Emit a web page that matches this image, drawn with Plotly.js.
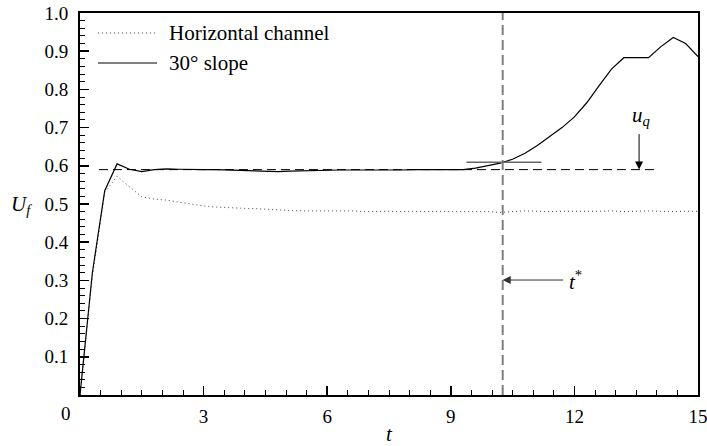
<!DOCTYPE html>
<html>
<head>
<meta charset="utf-8">
<script src="https://cdn.plot.ly/plotly-3.0.1.min.js"></script>
<style>html,body{margin:0;padding:0;background:#fff;}#chart{width:707px;height:446px;}</style>
</head>
<body>
<div id="chart"></div>
<script>
// time samples (dt = 0.3)
const tVals = [0,0.3,0.6,0.9,1.2,1.5,1.8,2.1,2.4,2.7,3.0,3.3,3.6,3.9,4.2,4.5,4.8,5.1,5.4,5.7,6.0,6.3,6.6,6.9,7.2,7.5,7.8,8.1,8.4,8.7,9.0,9.3,9.6,9.9,10.2,10.5,10.8,11.1,11.4,11.7,12.0,12.3,12.6,12.9,13.2,13.5,13.8,14.1,14.4,14.7,15.0];
// Horizontal channel front velocity
const horizontalUf = [0,0.31,0.53,0.573,0.545,0.519,0.513,0.510,0.505,0.500,0.495,0.492,0.490,0.489,0.488,0.486,0.484,0.483,0.482,0.482,0.481,0.481,0.482,0.480,0.481,0.481,0.480,0.481,0.480,0.481,0.480,0.480,0.481,0.480,0.478,0.480,0.482,0.481,0.480,0.481,0.481,0.480,0.481,0.482,0.480,0.481,0.482,0.481,0.480,0.481,0.481];
// 30 degree slope front velocity
const slopeUf = [0,0.32,0.535,0.605,0.591,0.585,0.590,0.592,0.591,0.590,0.590,0.590,0.589,0.588,0.587,0.586,0.585,0.586,0.587,0.588,0.589,0.589,0.589,0.589,0.588,0.588,0.589,0.590,0.590,0.589,0.589,0.590,0.594,0.600,0.607,0.617,0.633,0.653,0.676,0.700,0.728,0.765,0.810,0.853,0.883,0.883,0.883,0.912,0.936,0.920,0.886];
const seriesNames = ["Horizontal channel", "30\u00b0 slope"];
// annotation values
const tStar = 10.26;
const uq = 0.59;
const uqLineRange = [0.46, 14.05];
const tangentRange = [9.38, 11.2];
const tangentValue = 0.609;
const uqArrowT = 13.57;
const tStarArrowValue = 0.301;
const xTicks = [0,3,6,9,12,15];
const yTicks = [0,0.1,0.2,0.3,0.4,0.5,0.6,0.7,0.8,0.9,1.0];

const fam = "'Liberation Serif', 'DejaVu Serif', serif";
const tickFont = {family: fam, size: 19, color: "#000"};
const textFont = {family: fam, size: 21, color: "#000"};

const traces = [
  {x: tVals, y: horizontalUf, mode: "lines", name: seriesNames[0],
   line: {color: "#444", width: 1, dash: "1px,3px"}},
  {x: tVals, y: slopeUf, mode: "lines", name: seriesNames[1],
   line: {color: "#000", width: 1.2}}
];

function px2paperX(px){return (px-80)/618;}
function px2paperY(py){return (395-py)/382;}

const layout = {
  width: 707, height: 446,
  margin: {l: 80, r: 9, t: 13, b: 51},
  paper_bgcolor: "#fff", plot_bgcolor: "#fff",
  showlegend: false,
  font: tickFont,
  xaxis: {
    range: [0, 15], showgrid: false, zeroline: false,
    showline: true, linecolor: "#000", linewidth: 2, mirror: true,
    tickmode: "array", tickvals: xTicks, ticktext: xTicks.map(v => v === 0 ? "" : String(v)),
    ticks: "inside", ticklen: 9, tickwidth: 1.5, tickcolor: "#000",
    ticklabelstandoff: 3, ticklabeloverflow: "allow",
    minor: {tickmode: "linear", tick0: 0, dtick: 0.5, ticks: "inside", ticklen: 5, tickwidth: 1, tickcolor: "#000"},
    tickfont: tickFont
  },
  yaxis: {
    range: [0, 1], showgrid: false, zeroline: false,
    showline: true, linecolor: "#000", linewidth: 2, mirror: true,
    tickmode: "array", tickvals: yTicks, ticktext: yTicks.map(v => v === 0 ? "" : v.toFixed(1)),
    ticks: "inside", ticklen: 9, tickwidth: 1.5, tickcolor: "#000",
    ticklabelstandoff: 6, ticklabeloverflow: "allow",
    minor: {tickmode: "linear", tick0: 0, dtick: 0.02, ticks: "inside", ticklen: 5, tickwidth: 1, tickcolor: "#000"},
    tickfont: tickFont
  },
  shapes: [
    {type: "line", xref: "x", yref: "paper", x0: tStar, x1: tStar, y0: 0, y1: 1,
     line: {color: "#808080", width: 2, dash: "10px,5px"}},
    {type: "line", xref: "x", yref: "y", x0: uqLineRange[0], x1: uqLineRange[1], y0: uq, y1: uq,
     line: {color: "#000", width: 1, dash: "9px,5px"}},
    {type: "line", xref: "x", yref: "y", x0: tangentRange[0], x1: tangentRange[1], y0: tangentValue, y1: tangentValue,
     line: {color: "#666", width: 1.5}},
    // legend samples
    {type: "line", xref: "paper", yref: "paper", x0: px2paperX(98), x1: px2paperX(157), y0: px2paperY(33), y1: px2paperY(33),
     line: {color: "#444", width: 1, dash: "1px,3px"}},
    {type: "line", xref: "paper", yref: "paper", x0: px2paperX(98), x1: px2paperX(157), y0: px2paperY(63), y1: px2paperY(63),
     line: {color: "#000", width: 1.2}}
  ],
  annotations: [
    {xref: "paper", yref: "paper", x: px2paperX(167), y: px2paperY(33), text: seriesNames[0],
     showarrow: false, xanchor: "left", yanchor: "middle", font: textFont},
    {xref: "paper", yref: "paper", x: px2paperX(167), y: px2paperY(63), text: seriesNames[1],
     showarrow: false, xanchor: "left", yanchor: "middle", font: textFont},
    // u_q arrow
    {xref: "x", yref: "y", x: uqArrowT, y: uq, ax: 0, ay: -37, text: "",
     showarrow: true, arrowhead: 2, arrowsize: 1.6, arrowwidth: 1, arrowcolor: "#000"},
    {xref: "x", yref: "paper", x: uqArrowT + 0.05, y: px2paperY(116), text: "<i>u</i><sub><i>q</i></sub>",
     showarrow: false, xanchor: "center", yanchor: "middle", font: textFont},
    // t* arrow
    {xref: "x", yref: "y", x: tStar, y: tStarArrowValue, ax: 62, ay: 0, text: "",
     showarrow: true, arrowhead: 2, arrowsize: 1.6, arrowwidth: 1, arrowcolor: "#333"},
    {xref: "paper", yref: "y", x: px2paperX(567), y: tStarArrowValue, text: "<i>t</i><sup>*</sup>",
     showarrow: false, xanchor: "left", yanchor: "middle", font: textFont},
    // axis titles
    {xref: "paper", yref: "paper", x: px2paperX(389), y: px2paperY(434), text: "<i>t</i>",
     showarrow: false, xanchor: "center", yanchor: "middle", font: textFont},
    {xref: "paper", yref: "paper", x: px2paperX(21), y: px2paperY(205), text: "<i>U</i><sub><i>f</i></sub>",
     showarrow: false, xanchor: "center", yanchor: "middle", font: textFont},
    // origin label
    {xref: "paper", yref: "paper", x: px2paperX(66), y: px2paperY(413), text: "0",
     showarrow: false, xanchor: "center", yanchor: "middle", font: tickFont}
  ]
};

Plotly.newPlot("chart", traces, layout, {displayModeBar: false, staticPlot: true});
</script>
</body>
</html>
